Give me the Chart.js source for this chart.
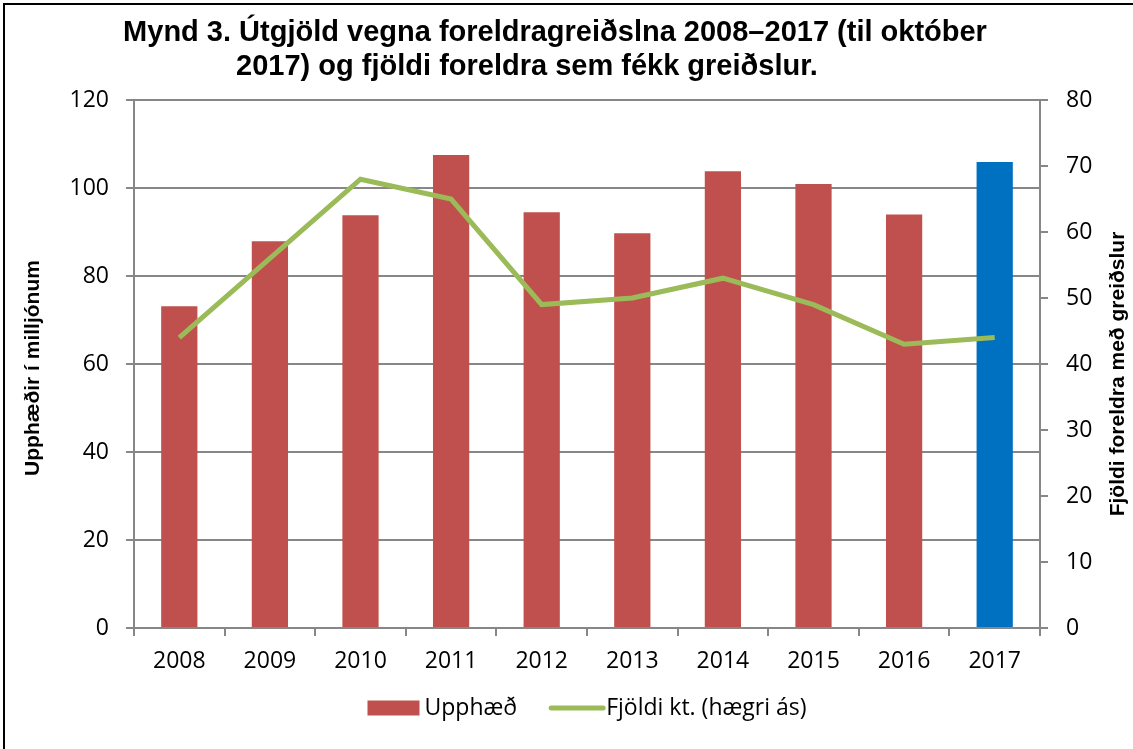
<!DOCTYPE html>
<html lang="is">
<head>
<meta charset="utf-8">
<script src="https://cdn.jsdelivr.net/npm/chart.js@4.4.1/dist/chart.umd.min.js"></script>
<style>
    html, body { margin: 0; padding: 0; background: #fff; }
    #frame { position: relative; width: 1133px; height: 749px; overflow: hidden; }
    #frame::before {
        content: ''; position: absolute; left: 3px; top: 3px; width: 1140px; height: 760px;
        border-left: 2px solid #000; border-top: 2px solid #000; pointer-events: none;
    }
    canvas { display: block; }
</style>
</head>
<body>
<div id="frame">
    <canvas id="grafico" width="1133" height="749"></canvas>
</div>
<script>
const ar = ['2008', '2009', '2010', '2011', '2012', '2013', '2014', '2015', '2016', '2017'];
const upphaed = [73.1, 87.9, 93.8, 107.5, 94.5, 89.7, 103.8, 100.9, 94.0, 105.9];
const fjoldi = [44, 56, 68, 65, 49, 50, 53, 49, 43, 44];
const titillLinur = ['Mynd 3. Útgjöld vegna foreldragreiðslna 2008–2017 (til október', '2017) og fjöldi foreldra sem fékk greiðslur.'];
const titillVinstri = 'Upphæðir í milljónum';
const titillHaegri = 'Fjöldi foreldra með greiðslur';
const skyringar = ['Upphæð', 'Fjöldi kt. (hægri ás)'];

const RAUTT = '#C0504D';
const BLATT = '#0070C0';
const GRAENT = '#9BBB59';
const GRATT = '#878787';
const TOLUR = "'Open Sans', sans-serif";
const STAERD = 23;

// síðasta árið (til október) er blátt
const suluLitir = ar.map((a, i) => i === ar.length - 1 ? BLATT : RAUTT);

function feitt(px) {
    return `bold ${px}px 'Liberation Sans', Arial, sans-serif`;
}

function lodrettTexti(ctx, texti, x, y) {
    ctx.save();
    ctx.translate(x, y);
    ctx.rotate(-Math.PI / 2);
    ctx.fillText(texti, 0, 0);
    ctx.restore();
}

const textarPlugin = {
    id: 'textar',
    afterDraw(chart) {
        const ctx = chart.ctx;
        const area = chart.chartArea;
        ctx.save();
        ctx.fillStyle = '#000';
        ctx.textAlign = 'center';
        ctx.textBaseline = 'middle';

        ctx.font = feitt(29);
        ctx.fillText(titillLinur[0], 555, 33);
        ctx.fillText(titillLinur[1], 527, 67);

        ctx.font = feitt(21);
        lodrettTexti(ctx, titillVinstri, 33, 368);
        lodrettTexti(ctx, titillHaegri, 1118, 374);

        // skýringar neðst, miðjaðar á teiknisvæðið
        ctx.font = `${STAERD}px ${TOLUR}`;
        ctx.textAlign = 'left';
        const kassi = 52;
        const bil = 5;
        const milli = 32;
        const b0 = ctx.measureText(skyringar[0]).width;
        const b1 = ctx.measureText(skyringar[1]).width;
        const heild = kassi + bil + b0 + milli + kassi + bil + b1;
        let x = (area.left + area.right) / 2 - heild / 2;
        const y = 708;

        ctx.fillStyle = RAUTT;
        ctx.fillRect(x, y - 7.5, kassi, 15);
        ctx.fillStyle = '#000';
        ctx.fillText(skyringar[0], x + kassi + bil, y);
        x += kassi + bil + b0 + milli;

        ctx.strokeStyle = GRAENT;
        ctx.lineWidth = 5;
        ctx.lineCap = 'round';
        ctx.beginPath();
        ctx.moveTo(x + 2, y);
        ctx.lineTo(x + kassi + 2, y);
        ctx.stroke();
        ctx.fillText(skyringar[1], x + kassi + bil, y);
        ctx.restore();
    }
};

new Chart(document.getElementById('grafico'), {
    data: {
        labels: ar,
        datasets: [
            {
                type: 'line',
                label: skyringar[1],
                data: fjoldi,
                yAxisID: 'y1',
                borderColor: GRAENT,
                backgroundColor: GRAENT,
                borderWidth: 5,
                pointRadius: 0,
                tension: 0,
                order: 1
            },
            {
                type: 'bar',
                label: skyringar[0],
                data: upphaed,
                yAxisID: 'y',
                backgroundColor: suluLitir,
                barPercentage: 0.4,
                categoryPercentage: 1,
                order: 2
            }
        ]
    },
    options: {
        responsive: false,
        animation: false,
        layout: { padding: { top: 100, bottom: 61, left: 0, right: 0 } },
        plugins: {
            title: { display: false },
            tooltip: { enabled: false },
            legend: { display: false }
        },
        scales: {
            x: {
                offset: true,
                afterFit(scale) { scale.height = 60; },
                grid: { offset: true, drawOnChartArea: false, drawTicks: true, tickLength: 8, color: GRATT, lineWidth: 2 },
                border: { color: GRATT, width: 2 },
                ticks: { color: '#000', font: { family: TOLUR, size: STAERD }, padding: 12 }
            },
            y: {
                position: 'left',
                min: 0,
                max: 120,
                afterFit(scale) { scale.width = 134; },
                grid: { color: GRATT, lineWidth: 2, tickLength: 8 },
                border: { color: GRATT, width: 2 },
                ticks: { stepSize: 20, color: '#000', font: { family: TOLUR, size: STAERD }, padding: 17 }
            },
            y1: {
                position: 'right',
                min: 0,
                max: 80,
                afterFit(scale) { scale.width = 93; },
                grid: { drawOnChartArea: false, color: GRATT, lineWidth: 2, tickLength: 8 },
                border: { color: GRATT, width: 2 },
                ticks: { stepSize: 10, color: '#000', font: { family: TOLUR, size: STAERD }, padding: 18 }
            }
        }
    },
    plugins: [textarPlugin]
});
</script>
</body>
</html>
